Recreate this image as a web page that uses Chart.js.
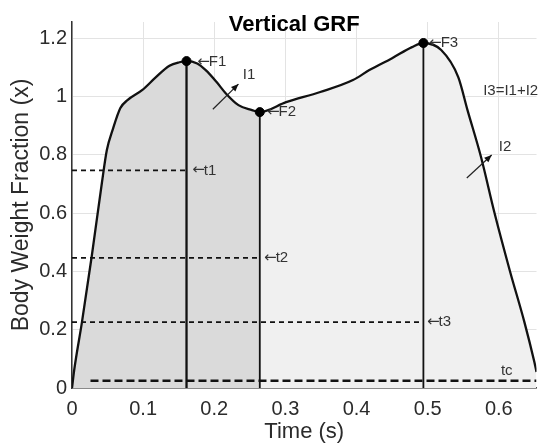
<!DOCTYPE html>
<html>
<head>
<meta charset="utf-8">
<script src="https://cdn.jsdelivr.net/npm/chart.js@4/dist/chart.umd.min.js"></script>
<style>
  html, body { margin: 0; padding: 0; background: #fff; }
  canvas { display: block; }
</style>
</head>
<body>
<canvas id="grf" width="542" height="445"></canvas>
<script>
'use strict';
// vertical GRF curve, time (s) vs body weight fraction
const timeS = [0, 0.003, 0.014, 0.028, 0.042, 0.049, 0.057, 0.068, 0.078, 0.099, 0.118, 0.137, 0.151, 0.161,
  0.176, 0.188, 0.203, 0.216, 0.234, 0.253, 0.264, 0.301, 0.349, 0.395, 0.418, 0.45, 0.478, 0.494,
  0.519, 0.543, 0.556, 0.575, 0.594, 0.616, 0.636, 0.65, 0.653];
const bwFrac = [0, 0.06, 0.226, 0.456, 0.703, 0.816, 0.884, 0.96, 0.987, 1.022, 1.066, 1.105, 1.117, 1.121,
  1.113, 1.09, 1.05, 1.011, 0.97, 0.953, 0.946, 0.98, 1.015, 1.056, 1.09, 1.131, 1.169, 1.183,
  1.159, 1.066, 0.953, 0.792, 0.6, 0.398, 0.226, 0.089, 0.055];

// peaks F1, F2, F3
const peakNames = ['F1', 'F2', 'F3'];
const peakT = [0.161, 0.264, 0.494];
const peakV = [1.121, 0.946, 1.183];

// dashed levels t1, t2, t3, tc
const levelNames = ['t1', 't2', 't3', 'tc'];
const levelV = [0.746, 0.446, 0.226, 0.025];
const levelFrom = [0, 0, 0, 0.026];
const levelTo = [0.161, 0.264, 0.494, 0.653];

const xTicks = [0, 0.1, 0.2, 0.3, 0.4, 0.5, 0.6];
const xTickLabels = ['0', '0.1', '0.2', '0.3', '0.4', '0.5', '0.6'];
const yTicks = [0, 0.2, 0.4, 0.6, 0.8, 1, 1.2];
const yTickLabels = ['0', '0.2', '0.4', '0.6', '0.8', '1', '1.2'];

const curve = timeS.map((t, i) => ({x: t, y: bwFrac[i]}));
const splitT = peakT[1];
const curveA = curve.filter(p => p.x <= splitT);

const datasets = [];
// light fill under whole curve
datasets.push({data: curve, borderWidth: 0, pointRadius: 0, fill: 'origin',
  backgroundColor: '#f0f0f0', cubicInterpolationMode: 'monotone', order: 9});
// darker fill up to F2
datasets.push({data: curveA, borderWidth: 0, pointRadius: 0, fill: 'origin',
  backgroundColor: '#dadada', cubicInterpolationMode: 'monotone', order: 8});
// the force line
datasets.push({data: curve, borderColor: '#111', borderWidth: 2.3, pointRadius: 0, fill: false,
  cubicInterpolationMode: 'monotone', order: 3});
// verticals at peaks
for (let i = 0; i < peakT.length; i++) {
  datasets.push({data: [{x: peakT[i], y: 0}, {x: peakT[i], y: peakV[i]}], borderColor: '#111',
    borderWidth: i === 0 ? 2.3 : 1.8, pointRadius: 0, fill: false, order: 4});
}
// dashed levels
for (let i = 0; i < levelV.length; i++) {
  const tc = levelNames[i] === 'tc';
  datasets.push({data: [{x: levelFrom[i], y: levelV[i]}, {x: levelTo[i], y: levelV[i]}], borderColor: '#111',
    borderWidth: tc ? 2.4 : 1.8, borderDash: tc ? [8, 4] : [5, 4], pointRadius: 0, fill: false, order: 5});
}
// peak markers
datasets.push({data: peakT.map((t, i) => ({x: t, y: peakV[i]})), showLine: false, pointRadius: 4.5,
  pointBackgroundColor: '#000', pointBorderColor: '#000', order: 1});

// text notes, placed in data units; arrow = leading left arrow glyph
const notes = [
  {text: 'F1', arrow: true, x: 0.176, y: 1.118},
  {text: 'F2', arrow: true, x: 0.274, y: 0.946},
  {text: 'F3', arrow: true, x: 0.502, y: 1.183},
  {text: 'I1', arrow: false, x: 0.240, y: 1.073},
  {text: 'I2', arrow: false, x: 0.600, y: 0.826},
  {text: 'I3=I1+I2', arrow: false, x: 0.578, y: 1.018},
  {text: 't1', arrow: true, x: 0.169, y: 0.746},
  {text: 't2', arrow: true, x: 0.270, y: 0.446},
  {text: 't3', arrow: true, x: 0.499, y: 0.226},
  {text: 'tc', arrow: false, x: 0.603, y: 0.058}
];
const arrows = [
  {x0: 0.198, y0: 0.956, x1: 0.234, y1: 1.042},
  {x0: 0.555, y0: 0.720, x1: 0.590, y1: 0.799}
];

const notesPlugin = {
  id: 'notes',
  afterDatasetsDraw(chart) {
    const ctx = chart.ctx;
    const xs = chart.scales.x, ys = chart.scales.y;
    ctx.save();
    ctx.fillStyle = '#333';
    ctx.textBaseline = 'middle';
    ctx.textAlign = 'left';
    notes.forEach(n => {
      let px = xs.getPixelForValue(n.x);
      const py = ys.getPixelForValue(n.y);
      if (n.arrow) {
        ctx.font = '15px "DejaVu Sans", sans-serif';
        ctx.fillText('\u2190', px, py);
        px += ctx.measureText('\u2190').width - 1;
      }
      ctx.font = '15px "Liberation Sans", Arial, sans-serif';
      ctx.fillText(n.text, px, py);
    });
    ctx.strokeStyle = '#222';
    ctx.fillStyle = '#111';
    ctx.lineWidth = 1.2;
    arrows.forEach(a => {
      const x0 = xs.getPixelForValue(a.x0), y0 = ys.getPixelForValue(a.y0);
      const x1 = xs.getPixelForValue(a.x1), y1 = ys.getPixelForValue(a.y1);
      const ang = Math.atan2(y1 - y0, x1 - x0);
      ctx.beginPath();
      ctx.moveTo(x0, y0);
      ctx.lineTo(x1, y1);
      ctx.stroke();
      ctx.beginPath();
      ctx.moveTo(x1, y1);
      ctx.lineTo(x1 - 8 * Math.cos(ang - 0.4), y1 - 8 * Math.sin(ang - 0.4));
      ctx.lineTo(x1 - 8 * Math.cos(ang + 0.4), y1 - 8 * Math.sin(ang + 0.4));
      ctx.closePath();
      ctx.fill();
    });
    // title sits over the top of the axes
    ctx.fillStyle = '#000';
    ctx.font = 'bold 22px "Liberation Sans", Arial, sans-serif';
    ctx.textAlign = 'center';
    ctx.fillText('Vertical GRF', (chart.chartArea.left + chart.chartArea.right) / 2 - 10, 25);
    ctx.restore();
  }
};

const tickFont = {family: '"Liberation Sans", Arial, sans-serif', size: 20};

new Chart(document.getElementById('grf'), {
  type: 'line',
  data: {datasets: datasets},
  options: {
    responsive: false,
    animation: false,
    layout: {padding: {top: 22, right: 2, left: 0, bottom: 0}},
    plugins: {legend: {display: false}, tooltip: {enabled: false}, title: {display: false}},
    scales: {
      x: {
        type: 'linear', min: 0, max: 0.653,
        afterBuildTicks: s => { s.ticks = xTicks.map(v => ({value: v})); },
        afterFit: s => { s.height = 57; },
        ticks: {font: tickFont, color: '#2b2b2b', padding: 9, maxRotation: 0,
          callback: (v) => xTickLabels[xTicks.indexOf(v)]},
        grid: {color: '#e3e3e3', drawTicks: false},
        border: {color: '#333', width: 1.5},
        title: {display: true, text: 'Time (s)', font: {family: '"Liberation Sans", Arial, sans-serif', size: 22},
          color: '#2b2b2b', padding: {top: 0, bottom: 0}}
      },
      y: {
        type: 'linear', min: 0, max: 1.255,
        afterBuildTicks: s => { s.ticks = yTicks.map(v => ({value: v})); },
        afterFit: s => { s.width = 72; },
        ticks: {font: tickFont, color: '#2b2b2b', padding: 5,
          callback: (v) => yTickLabels[yTicks.indexOf(v)]},
        grid: {color: '#e3e3e3', drawTicks: false},
        border: {color: '#333', width: 1.5},
        title: {display: true, text: 'Body Weight Fraction (x)', font: {family: '"Liberation Sans", Arial, sans-serif', size: 23},
          color: '#2b2b2b', padding: {top: 8, bottom: 0}}
      }
    }
  },
  plugins: [notesPlugin]
});
</script>
</body>
</html>
